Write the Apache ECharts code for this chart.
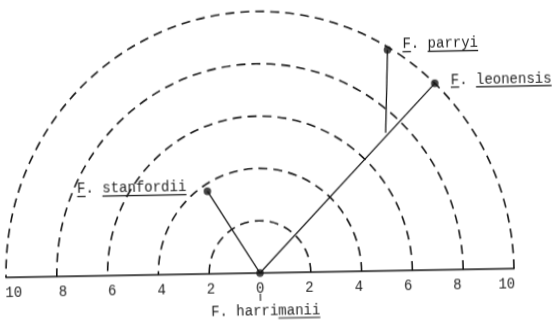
<!DOCTYPE html>
<html>
<head>
<meta charset="utf-8">
<script src="https://cdn.jsdelivr.net/npm/echarts@6/dist/echarts.min.js"></script>
<style>
  html, body { margin: 0; padding: 0; background: #fff; }
  /* the scanned original sits about one degree off level and a touch tall */
  #main { width: 556px; height: 322px; transform: rotate(-1deg) scaleY(1.03); transform-origin: 260px 273px; }
</style>
</head>
<body>
<div id="main"></div>
<script>
const rings = [2, 4, 6, 8, 10]
const tickValues = [-10, -8, -6, -4, -2, 0, 2, 4, 6, 8, 10]
const tickLabels = ['10', '8', '6', '4', '2', '0', '2', '4', '6', '8', '10']

const taxa = ['F. harrimanii', 'F. stanfordii', 'F. leonensis', 'F. parryi']
const taxonRadius = [0, 3.75, 10, 9.9]
const taxonAngle = [90, 122.5, 45.5, 58.5]

// parryi hangs off the harrimanii-leonensis branch
const joinRadius = 7.3
const joinAngle = 46.3

const ink = '#151515'
const font = '14px "Liberation Mono"'

const pt = (i) => [taxonRadius[i], taxonAngle[i]]

const branch = (data) => ({
  type: 'line',
  coordinateSystem: 'polar',
  data: data,
  symbol: 'none',
  silent: true,
  lineStyle: { color: ink, width: 1.3 },
})

const option = {
  animation: false,
  backgroundColor: '#fff',
  polar: { center: [260, 273], radius: 254 },
  angleAxis: {
    type: 'value',
    min: 0,
    max: 180,
    startAngle: 0,
    endAngle: 180,
    clockwise: false,
    axisLine: { show: false },
    axisTick: { show: false },
    axisLabel: { show: false },
    splitLine: { show: false },
  },
  radiusAxis: {
    type: 'value',
    min: 0,
    max: rings[rings.length - 1],
    interval: rings[0],
    axisLine: { show: false },
    axisTick: { show: false },
    axisLabel: { show: false },
    splitLine: {
      show: true,
      lineStyle: { color: ink, width: 1.6, type: [9, 6] },
    },
  },
  grid: { left: 6, right: 42, top: 20, bottom: 49 },
  xAxis: {
    type: 'value',
    min: -10.3,
    max: 10.3,
    splitLine: { show: false },
    axisTick: { show: false },
    axisLine: { lineStyle: { color: ink, width: 1.6 } },
    axisLabel: {
      customValues: tickValues,
      formatter: (v) => tickLabels[tickValues.indexOf(Math.round(v))],
      margin: 8,
      color: '#222',
      fontFamily: 'Liberation Mono',
      fontSize: 14,
    },
  },
  yAxis: { type: 'value', min: 0, max: 10, show: false },
  series: [
    branch([pt(0), pt(1)]),
    branch([pt(0), pt(2)]),
    branch([pt(3), [joinRadius, joinAngle]]),
    {
      type: 'scatter',
      coordinateSystem: 'polar',
      data: taxa.map((name, i) => ({ name: name, value: pt(i) })),
      symbolSize: 7.5,
      itemStyle: { color: ink },
      silent: true,
    },
  ],
}

const chart = echarts.init(document.getElementById('main'))
chart.setOption(option)

// names are typed with the genus letter and the epithet underlined
const place = {
  'F. harrimanii': { align: 'center', dx: 5, dy: 37, under: [[8, 13]] },
  'F. stanfordii': { align: 'right', dx: -21, dy: -4, under: [[0, 1], [3, 13]] },
  'F. leonensis': { align: 'left', dx: 16, dy: -3, under: [[0, 1], [3, 12]] },
  'F. parryi': { align: 'left', dx: 15, dy: -5, under: [[0, 1], [3, 9]] },
}

const ctx = document.createElement('canvas').getContext('2d')
ctx.font = font
const w = (s) => ctx.measureText(s).width

const graphics = []
taxa.forEach((name, i) => {
  const p = chart.convertToPixel({ seriesIndex: 3 }, pt(i))
  const cfg = place[name]
  const full = w(name)
  let x0 = p[0] + cfg.dx
  if (cfg.align === 'center') x0 -= full / 2
  if (cfg.align === 'right') x0 -= full
  const y = p[1] + cfg.dy
  graphics.push({
    type: 'text',
    x: x0,
    y: y,
    silent: true,
    style: {
      text: name,
      font: font,
      fill: '#1e1e1e',
      align: 'left',
      verticalAlign: 'middle',
      textAlign: 'left',
      textVerticalAlign: 'middle',
    },
  })
  cfg.under.forEach(([a, b]) => {
    graphics.push({
      type: 'line',
      silent: true,
      shape: { x1: x0 + w(name.slice(0, a)), y1: y + 7, x2: x0 + w(name.slice(0, b)), y2: y + 7 },
      style: { stroke: ink, lineWidth: 1.2 },
    })
  })
  if (i === 0) {
    graphics.push({
      type: 'line',
      silent: true,
      shape: { x1: p[0], y1: p[1] + 20, x2: p[0], y2: p[1] + 27 },
      style: { stroke: ink, lineWidth: 1.1 },
    })
  }
})

chart.setOption({ graphic: graphics })
</script>
</body>
</html>
